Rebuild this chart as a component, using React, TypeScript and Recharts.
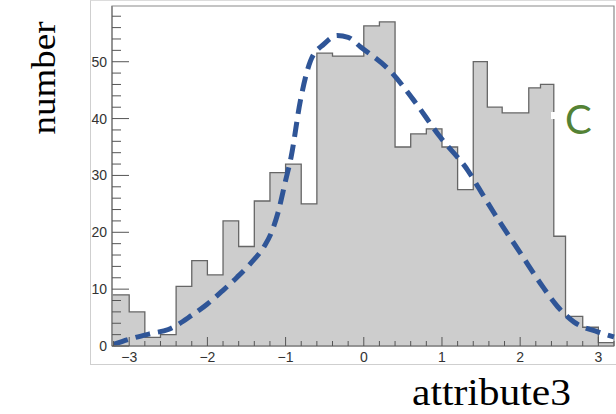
import React from "react"
import {
  ComposedChart,
  Area,
  Line,
  XAxis,
  YAxis,
  ReferenceArea,
} from "recharts"

// histogram bins (left edges + final right edge) and counts
const binEdges = [
  -3.22, -3.0, -2.8, -2.6, -2.4, -2.2, -2.0, -1.8, -1.6, -1.4, -1.2, -1.0,
  -0.8, -0.6, -0.4, -0.2, 0.0, 0.2, 0.4, 0.6, 0.8, 1.0, 1.2, 1.4, 1.58, 1.77,
  2.11, 2.26, 2.43, 2.58, 2.8, 3.0, 3.2,
]
const binCounts = [
  9, 6, 1.5, 2, 10.5, 15, 12.5, 22, 17.5, 25.5, 30.5, 32, 25, 51.5, 51, 51,
  56.3, 57, 35, 37.3, 38.2, 35, 27.5, 50, 42, 41, 45.4, 46, 19.3, 5.2, 3.3, 0.6,
]

// fitted curve (dashed)
const curveX = [
  -3.2, -3.0, -2.72, -2.5, -2.2, -2.0, -1.8, -1.62, -1.45, -1.27, -1.18, -1.1,
  -1.0, -0.93, -0.81, -0.68, -0.51, -0.34, -0.2, -0.04, 0.35, 0.64, 0.98, 1.33,
  1.54, 1.67, 2.01, 2.26, 2.48, 2.69, 2.99, 3.2,
]
const curveY = [
  0.3, 1.2, 2.2, 2.9, 5.4, 7.4, 9.8, 12.1, 14.5, 17.6, 20.0, 23.3, 29.1, 33.2,
  43.2, 50.2, 53.1, 54.6, 54.3, 52.6, 48.2, 43.2, 36.7, 30.9, 26.2, 23.3, 16.2,
  11.0, 6.9, 4.2, 2.5, 1.6,
]

const xTicks = [
  -3.2, -3, -2.8, -2.6, -2.4, -2.2, -2, -1.8, -1.6, -1.4, -1.2, -1, -0.8, -0.6,
  -0.4, -0.2, 0, 0.2, 0.4, 0.6, 0.8, 1, 1.2, 1.4, 1.6, 1.8, 2, 2.2, 2.4, 2.6,
  2.8, 3, 3.2,
]
const xLabels = [-3, -2, -1, 0, 1, 2, 3]
const yTicks = [
  0, 2, 4, 6, 8, 10, 12, 14, 16, 18, 20, 22, 24, 26, 28, 30, 32, 34, 36, 38,
  40, 42, 44, 46, 48, 50, 52, 54, 56, 58,
]
const yLabels = [0, 10, 20, 30, 40, 50]

const histData = binEdges.map((x, i) => ({
  x,
  y: binCounts[Math.min(i, binCounts.length - 1)],
}))
const curveData = curveX.map((x, i) => ({ x, y: curveY[i] }))

const isMajor = (list: number[], v: number) =>
  list.some((m) => Math.abs(m - v) < 1e-6)
const fmt = (v: number) => (v < 0 ? "\u2212" + Math.abs(v) : String(v))

const tickFont = "'Liberation Sans', Arial, sans-serif"
const serif = "'Liberation Serif', 'Times New Roman', serif"

function XTick(props: any) {
  const { x, y, payload } = props
  const major = isMajor(xLabels, payload.value)
  return (
    <g>
      <line x1={x} x2={x} y1={y} y2={y - (major ? 9 : 5)} stroke="#555" strokeWidth={1} />
      {major && (
        <text x={x} y={y + 16} textAnchor="middle" fontSize={14} fontFamily={tickFont} fill="#333">
          {fmt(payload.value)}
        </text>
      )}
    </g>
  )
}

function YTick(props: any) {
  const { x, y, payload } = props
  const major = isMajor(yLabels, payload.value)
  return (
    <g>
      <line x1={x} x2={x + (major ? 17 : 9)} y1={y} y2={y} stroke="#555" strokeWidth={1} />
      {major && (
        <text x={x - 5} y={y + 5} textAnchor="end" fontSize={14} fontFamily={tickFont} fill="#333">
          {fmt(payload.value)}
        </text>
      )}
    </g>
  )
}

export default function App() {
  return (
    <div style={{ position: "absolute", left: 0, top: 0, width: 616, height: 414, background: "#fff" }}>
      <div
        style={{
          position: "absolute",
          left: 90,
          top: 0,
          width: 526,
          height: 365,
          boxSizing: "border-box",
          borderLeft: "1px solid #cfcfcf",
          borderTop: "1px solid #dcdcdc",
          borderBottom: "1px solid #cfcfcf",
        }}
      />
      <div style={{ position: "absolute", left: 0, top: 0 }}>
        <ComposedChart
          width={616}
          height={414}
          margin={{ top: 6, right: 2, left: 0, bottom: 0 }}
        >
          <XAxis
            dataKey="x"
            type="number"
            domain={[-3.22, 3.2]}
            ticks={xTicks}
            interval={0}
            height={68}
            tickSize={0}
            tickMargin={0}
            tickLine={false}
            tick={<XTick />}
            axisLine={{ stroke: "#888", strokeWidth: 1.5 }}
            label={() => (
              <text
                x={412}
                y={405}
                fontSize={37}
                fontFamily={serif}
                fill="#000"
                textLength={159}
                lengthAdjust="spacingAndGlyphs"
              >
                attribute3
              </text>
            )}
          />
          <YAxis
            type="number"
            domain={[0, 59.8]}
            ticks={yTicks}
            interval={0}
            width={112}
            tickSize={0}
            tickMargin={0}
            tickLine={false}
            tick={<YTick />}
            axisLine={{ stroke: "#888", strokeWidth: 1.5 }}
            label={() => (
              <text
                x={55}
                y={78}
                transform="rotate(-90 55 78)"
                textAnchor="middle"
                fontSize={33}
                fontFamily={serif}
                fill="#000"
                textLength={113}
                lengthAdjust="spacingAndGlyphs"
              >
                number
              </text>
            )}
          />
          <Area
            data={histData}
            dataKey="y"
            type="stepAfter"
            fill="#cdcdcd"
            fillOpacity={1}
            stroke="#666"
            strokeWidth={1.3}
            isAnimationActive={false}
          />
          <Line
            data={curveData}
            dataKey="y"
            type="monotone"
            stroke="#2f5597"
            strokeWidth={5}
            strokeDasharray="15 8"
            dot={false}
            activeDot={false}
            isAnimationActive={false}
          />
          <ReferenceArea
            x1={-3.22}
            x2={3.2}
            y1={0}
            y2={59.8}
            fill="none"
            stroke="#8a8a8a"
            strokeWidth={1.2}
            label={() => (
              <g>
                <rect x={551} y={112} width={4} height={7} fill="#fff" />
                <text x={565} y={134} fontSize={40} fontFamily="Lato, 'Open Sans', sans-serif" fill="#548235">
                  C
                </text>
              </g>
            )}
          />
        </ComposedChart>
      </div>
    </div>
  )
}
